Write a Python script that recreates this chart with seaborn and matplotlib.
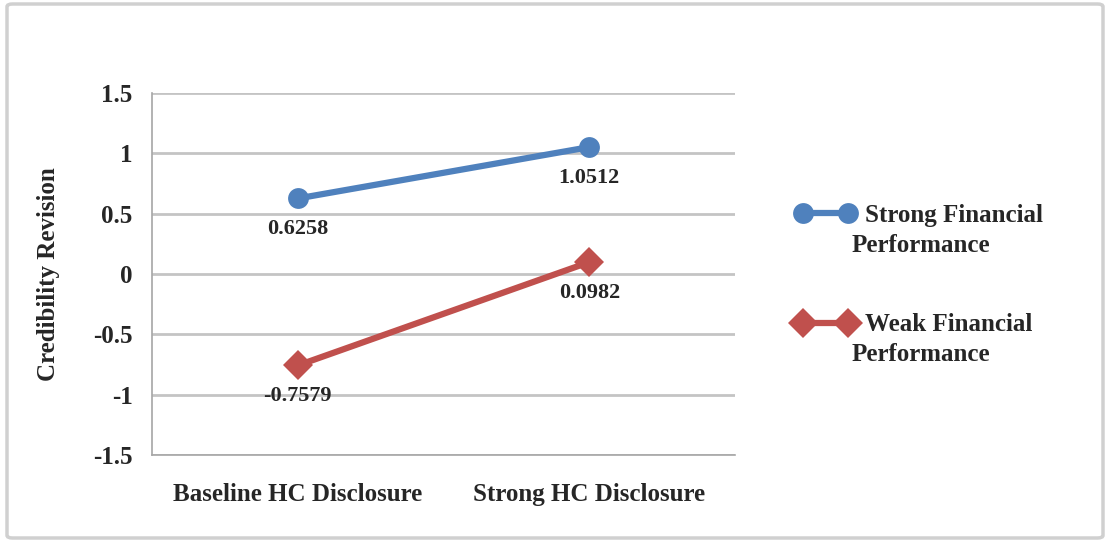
import pandas as pd
import matplotlib
matplotlib.use("Agg")
import matplotlib.pyplot as plt
from matplotlib.patches import FancyBboxPatch
import seaborn as sns

# data
disclosure = ["Baseline HC Disclosure", "Strong HC Disclosure"]
strong_fp = [0.6258, 1.0512]
weak_fp = [-0.7579, 0.0982]
series_names = ["Strong Financial Performance", "Weak Financial Performance"]
y_ticks = [-1.5, -1, -0.5, 0, 0.5, 1, 1.5]
y_tick_labels = ["-1.5", "-1", "-0.5", "0", "0.5", "1", "1.5"]

df = pd.DataFrame({
    "disclosure": disclosure * 2,
    "revision": strong_fp + weak_fp,
    "performance": [series_names[0]] * 2 + [series_names[1]] * 2,
})

sns.set_style("white")
plt.rcParams["font.family"] = ["Liberation Serif", "DejaVu Serif"]
plt.rcParams["font.weight"] = "bold"

W, H = 1107, 542
fig = plt.figure(figsize=(W / 100, H / 100), dpi=100)
ax = fig.add_axes([0.1373, 0.1605, 0.5267, 0.668])

palette = {series_names[0]: "#4F81BD", series_names[1]: "#C0504D"}
markers = {series_names[0]: "o", series_names[1]: "D"}
sns.lineplot(data=df, x="disclosure", y="revision", hue="performance",
             style="performance", markers=markers, dashes=False,
             palette=palette, linewidth=4.5, markersize=15,
             markeredgewidth=0, ax=ax, sort=False)

ax.set_xlim(-0.5, 1.5)
ax.set_ylim(-1.5, 1.5)
ax.set_yticks(y_ticks)
ax.set_yticklabels(y_tick_labels)
ax.set_xticks([0, 1])
ax.set_xticklabels(disclosure)
ax.set_xticks([-0.5, 0.5, 1.5], minor=True)
ax.grid(axis="y", color="#c4c4c4", linewidth=2)
ax.set_axisbelow(True)

for side in ["top", "right"]:
    ax.spines[side].set_visible(False)
for side in ["left", "bottom"]:
    ax.spines[side].set_color("#a6a6a6")
    ax.spines[side].set_linewidth(1.2)

ax.tick_params(axis="y", length=6, color="#a6a6a6", width=1.2, labelsize=18, pad=8)
ax.tick_params(axis="x", which="major", length=0, labelsize=18, pad=20)
ax.tick_params(axis="x", which="minor", length=6, color="#a6a6a6", width=1.2)

ax.set_xlabel("")
ax.set_ylabel("Credibility Revision", fontsize=18, fontweight="bold", labelpad=24)

# data labels under each point
for vals in [strong_fp, weak_fp]:
    for i, v in enumerate(vals):
        ax.annotate(f"{v:.4f}", (i, v), xytext=(0, -22), textcoords="offset points",
                    ha="center", va="center", fontsize=16, fontweight="bold")

# Excel-like legend: first line of the name next to the handle, rest wrapped below
handles, labels = ax.get_legend_handles_labels()
ax.get_legend().remove()
first_lines = [lab.rsplit(" ", 1)[0] for lab in labels]
rest_lines = [lab.rsplit(" ", 1)[1] for lab in labels]
leg = fig.legend(handles, first_lines, loc="upper left",
                 bbox_to_anchor=(795 / W, 1 - 204 / H),
                 frameon=False, fontsize=18, numpoints=2, handlelength=2.4,
                 labelspacing=3.45, borderpad=0, borderaxespad=0, handletextpad=0.4)
fig.canvas.draw()
for t, rest in zip(leg.get_texts(), rest_lines):
    bb = t.get_window_extent()
    fig.text(852 / W, ((bb.y0 + bb.y1) / 2 - 30) / H, rest, fontsize=18,
             fontweight="bold", va="center", ha="left")

# outer chart border
fig.patches.append(FancyBboxPatch((7 / W, 4 / H), 1096 / W, 534 / H,
                                  boxstyle="round,pad=0,rounding_size=0.005",
                                  transform=fig.transFigure, facecolor="none",
                                  edgecolor="#d0d0d0", linewidth=2.5))

fig.savefig("out.png", dpi=100)
